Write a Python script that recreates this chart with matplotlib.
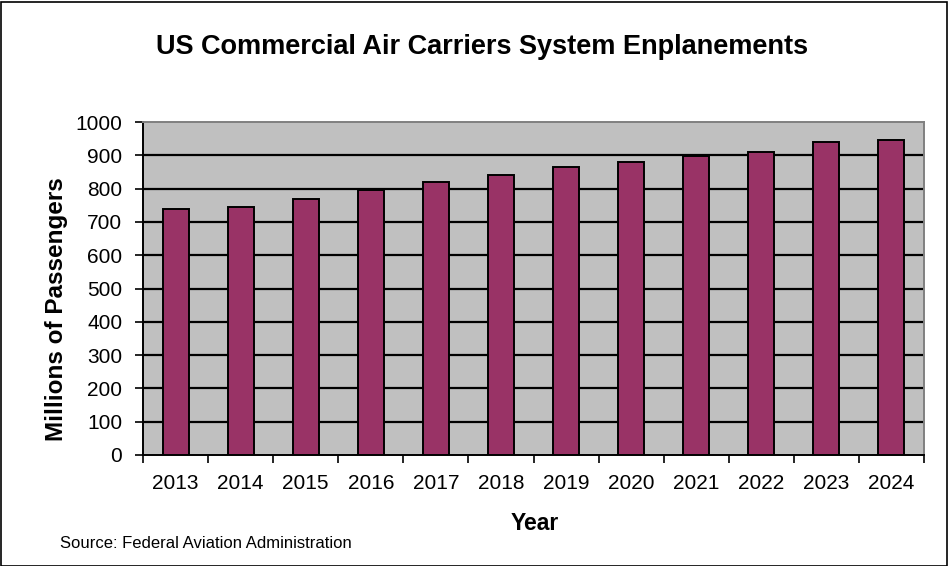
import matplotlib
matplotlib.use('Agg')
import matplotlib.pyplot as plt
import numpy as np

years = ['2013', '2014', '2015', '2016', '2017', '2018',
         '2019', '2020', '2021', '2022', '2023', '2024']
enplanements = [739, 744, 770, 795, 821, 841, 866, 881, 897, 910, 940, 945]
yticks = list(range(0, 1001, 100))

plt.rcParams['font.family'] = ['Liberation Sans', 'DejaVu Sans']

fig = plt.figure(figsize=(9.48, 5.66), dpi=100)
ax = fig.add_axes([143 / 948, 1 - 455 / 566, (924 - 143) / 948, (455 - 122) / 566])

x = np.arange(len(years))
ax.bar(x, enplanements, width=0.4, color='#993366', edgecolor='black', linewidth=1.4, zorder=3)

ax.set_facecolor('#C0C0C0')
ax.set_xlim(-0.5, len(years) - 0.5)
ax.set_ylim(0, 1000)
ax.set_yticks(yticks)
ax.set_yticklabels([str(v) for v in yticks], fontsize=15)
for v in yticks[1:-1]:
    ax.axhline(v, color='black', linewidth=1.6, zorder=2)

ax.set_xticks(x)
ax.set_xticklabels(years, fontsize=15)
ax.tick_params(axis='x', length=0, pad=14)
ax.set_xticks(np.arange(-0.5, len(years)), minor=True)
ax.tick_params(axis='x', which='minor', length=6, direction='out', width=1.2)
ax.tick_params(axis='y', length=6, direction='out', width=1.2, pad=9)

for side in ['top', 'right']:
    ax.spines[side].set_color('#808080')
    ax.spines[side].set_linewidth(1.4)
for side in ['left', 'bottom']:
    ax.spines[side].set_color('black')
    ax.spines[side].set_linewidth(1.4)

fig.text(56 / 948, 1 - 309 / 566, 'Millions of Passengers', rotation=90,
         ha='center', va='center', fontsize=17.5, fontweight='bold')
fig.text(535 / 948, 1 - 523 / 566, 'Year',
         ha='center', va='center', fontsize=16.5, fontweight='bold')
fig.text(482 / 948, 1 - 47 / 566, 'US Commercial Air Carriers System Enplanements',
         ha='center', va='center', fontsize=19.5, fontweight='bold')
fig.text(60 / 948, 1 - 544 / 566, 'Source: Federal Aviation Administration',
         ha='left', va='center', fontsize=12)

fig.patches.append(plt.Rectangle((0.5 / 948, 0.5 / 566), 1 - 2 / 948, 1 - 2 / 566,
                                 transform=fig.transFigure, fill=False,
                                 edgecolor='black', linewidth=1.2))

plt.savefig('out.png', dpi=100)
